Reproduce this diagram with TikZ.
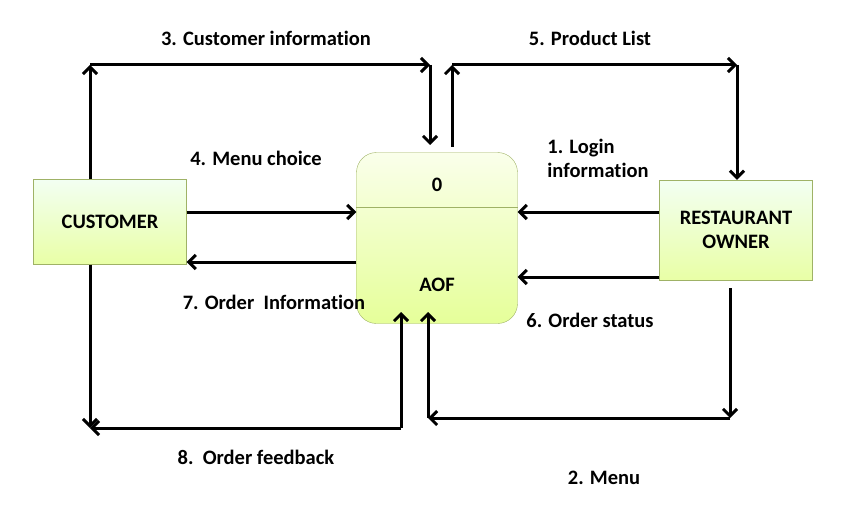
\documentclass[tikz,border=0pt]{standalone}
\usepackage{fontspec}
\setmainfont{Carlito}[Ligatures={NoCommon}]
\usetikzlibrary{positioning, arrows.meta}
\begin{document}
\begin{tikzpicture}[
          x=1pt, y=-1pt,
          every node/.style={font=\bfseries\fontsize{20.5}{24}\selectfont},
          entity/.style={draw=lime!50!black!60, top color=green!5, bottom color=lime!35, minimum height=85pt, minimum width=153pt, align=center},
          proc/.style={draw=lime!50!black!60, top color=lime!8, bottom color=lime!40, rounded corners=20pt, minimum height=171pt, minimum width=161pt},
          arrow/.style={-{Straight Barb[length=7pt, width=14pt]}, line width=3pt}
      ]
      \useasboundingbox (0,0) rectangle (862,524);

      % Nodes
      \node[entity] (cust) at (110,222) {CUSTOMER};
      \node[entity, minimum height=100pt] (rest) at (736,230) {RESTAURANT\\OWNER};
      \node[proc] (aof) at (437,238) {};
      \draw[draw=lime!50!black!60] (aof.west |- 0,207) -- (aof.east |- 0,207);
      \node (num) at (437,185) {0};
      \node (name) at (437,285) {AOF};

      % Corners
      \coordinate (c1) at (90,65);
      \coordinate (c2) at (430,65);
      \coordinate (c3) at (452,65);
      \coordinate (c4) at (737,65);
      \coordinate (c5) at (90,428);
      \coordinate (c6) at (401,428);
      \coordinate (c7) at (730,418);
      \coordinate (c8) at (428,418);

      % Arrows
      \draw[arrow] (cust.north -| c1) -- (c1);
      \draw[arrow] (c1) -- (c2);
      \draw[arrow] (c2) -- (c2 |- 0,145);
      \draw[arrow] (c3 |- 0,147) -- (c3);
      \draw[arrow] (c3) -- (c4);
      \draw[arrow] (c4) -- (c4 |- rest.north);
      \draw[arrow] (cust.east |- 0,212) -- (aof.west |- 0,212);
      \draw[arrow] (aof.west |- 0,262) -- (cust.east |- 0,262);
      \draw[arrow] (rest.west |- 0,212) -- (aof.east |- 0,212);
      \draw[arrow] (rest.west |- 0,277) -- (aof.east |- 0,277);
      \draw[arrow] (cust.south -| c5) -- (c5);
      \draw[arrow] (c6) -- (c5);
      \draw[arrow] (c6) -- (c6 |- 0,312);
      \draw[arrow] (c7 |- 0,288) -- (c7);
      \draw[arrow] (c7) -- (c8);
      \draw[arrow] (c8) -- (c8 |- 0,312);

      % Labels
      \node (l3) at (266,38) {3. Customer information};
      \node (l5) at (590,38) {5. Product List};
      \node (l4) at (256,158) {4. Menu choice};
      \node[align=left] (l1) at (598,158) {1. Login\\information};
      \node (l7) at (274,302) {7. Order~~Information};
      \node (l6) at (590,320) {6. Order status};
      \node (l8) at (256,457) {8.~~Order feedback};
      \node (l2) at (604,478) {2. Menu};
  
\end{tikzpicture}
\end{document}
